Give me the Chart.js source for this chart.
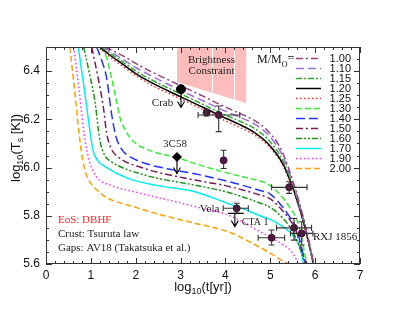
<!DOCTYPE html>
<html>
<head>
<meta charset="utf-8">
<script src="https://cdn.jsdelivr.net/npm/chart.js@4.4.0/dist/chart.umd.min.js"></script>
<style>
  html, body { margin: 0; padding: 0; background: #fff; }
  #wrap { width: 407px; height: 315px; }
</style>
</head>
<body>
<div id="wrap"><canvas id="chartCooling" width="407" height="315"></canvas></div>
<script>
// star masses (M/Msun), one cooling curve each
const masses = ["1.00", "1.10", "1.15", "1.20", "1.25", "1.30", "1.40", "1.50", "1.60", "1.70", "1.90", "2.00"];

// log10(t[yr]) and log10(Ts[K])
const age100 = [1.32, 1.70, 2.00, 2.32, 3.02, 3.50, 3.85, 4.30, 4.65, 4.92, 5.15, 5.29, 5.51, 5.73, 5.88, 5.97];
const temp100 = [6.50, 6.465, 6.432, 6.40, 6.338, 6.296, 6.264, 6.226, 6.195, 6.157, 6.105, 6.055, 5.94, 5.797, 5.679, 5.60];
const age110 = [1.27, 1.40, 1.70, 2.00, 2.32, 3.02, 3.50, 3.85, 4.30, 4.65, 4.92, 5.15, 5.29, 5.51, 5.73, 5.88, 5.97];
const temp110 = [6.50, 6.485, 6.45, 6.415, 6.383, 6.318, 6.277, 6.246, 6.21, 6.18, 6.142, 6.09, 6.042, 5.932, 5.793, 5.676, 5.60];
const age115 = [1.23, 1.40, 1.70, 2.00, 2.32, 3.02, 3.50, 3.85, 4.30, 4.65, 4.92, 5.15, 5.29, 5.51, 5.73, 5.88, 5.965];
const temp115 = [6.50, 6.478, 6.44, 6.401, 6.367, 6.304, 6.262, 6.23, 6.194, 6.162, 6.122, 6.07, 6.025, 5.922, 5.787, 5.672, 5.60];
const age120 = [1.20, 1.40, 1.70, 2.00, 2.32, 3.02, 3.50, 3.85, 4.30, 4.65, 4.92, 5.15, 5.29, 5.51, 5.73, 5.88, 5.96];
const temp120 = [6.50, 6.47, 6.43, 6.39, 6.355, 6.292, 6.25, 6.218, 6.18, 6.145, 6.105, 6.054, 6.012, 5.913, 5.781, 5.668, 5.60];
const age125 = [1.19, 1.40, 1.70, 2.00, 2.32, 3.02, 3.50, 3.85, 4.30, 4.65, 4.92, 5.15, 5.29, 5.51, 5.73, 5.88, 5.97];
const temp125 = [6.50, 6.462, 6.422, 6.381, 6.345, 6.283, 6.24, 6.207, 6.168, 6.135, 6.097, 6.047, 6.005, 5.907, 5.776, 5.664, 5.60];
const age130 = [1.22, 1.35, 1.46, 1.57, 1.65, 1.80, 1.94, 2.32, 2.91, 3.43, 4.00, 4.54, 4.77, 5.00, 5.28, 5.45, 5.59, 5.70, 5.77, 5.82];
const temp130 = [6.50, 6.456, 6.373, 6.276, 6.207, 6.145, 6.11, 6.07, 6.042, 6.01, 5.98, 5.955, 5.945, 5.925, 5.875, 5.83, 5.785, 5.71, 5.64, 5.60];
const age140 = [1.13, 1.25, 1.35, 1.46, 1.55, 1.69, 1.87, 2.20, 2.70, 3.32, 4.00, 4.77, 5.00, 5.28, 5.45, 5.59, 5.72, 5.80];
const temp140 = [6.50, 6.44, 6.373, 6.225, 6.135, 6.075, 6.045, 6.018, 5.995, 5.974, 5.945, 5.905, 5.89, 5.835, 5.79, 5.745, 5.65, 5.60];
const age150 = [1.02, 1.16, 1.28, 1.35, 1.45, 1.61, 2.20, 3.32, 4.00, 4.77, 5.00, 5.28, 5.45, 5.59, 5.72, 5.79];
const temp150 = [6.50, 6.373, 6.249, 6.145, 6.08, 6.044, 5.996, 5.948, 5.925, 5.886, 5.87, 5.82, 5.78, 5.73, 5.645, 5.60];
const age160 = [0.84, 0.98, 1.09, 1.20, 1.31, 1.46, 2.20, 3.32, 4.00, 4.77, 5.00, 5.28, 5.45, 5.59, 5.70, 5.77];
const temp160 = [6.50, 6.38, 6.276, 6.115, 6.05, 6.024, 5.969, 5.927, 5.90, 5.853, 5.835, 5.79, 5.75, 5.70, 5.645, 5.60];
const age170 = [0.72, 0.87, 0.98, 1.05, 1.15, 1.31, 1.83, 2.50, 3.32, 4.06, 4.54, 4.77, 5.00, 5.28, 5.45, 5.58, 5.69, 5.74];
const temp170 = [6.50, 6.304, 6.152, 6.07, 6.03, 6.005, 5.955, 5.925, 5.90, 5.851, 5.818, 5.80, 5.785, 5.755, 5.73, 5.70, 5.65, 5.60];
const age190 = [0.62, 0.75, 0.85, 0.96, 1.05, 1.15, 1.46, 2.00, 2.58, 3.50, 4.06, 4.77, 5.20, 5.43, 5.55, 5.62];
const temp190 = [6.50, 6.30, 6.14, 6.03, 5.985, 5.955, 5.925, 5.898, 5.872, 5.83, 5.803, 5.734, 5.69, 5.66, 5.63, 5.60];
const age200 = [0.53, 0.65, 0.75, 0.82, 0.90, 0.98, 1.09, 1.31, 2.00, 2.58, 3.30, 4.06, 4.54, 5.00, 5.30, 5.43];
const temp200 = [6.50, 6.30, 6.12, 6.03, 5.97, 5.94, 5.915, 5.88, 5.835, 5.803, 5.77, 5.734, 5.692, 5.645, 5.61, 5.60];

const curveAges = [age100, age110, age115, age120, age125, age130, age140, age150, age160, age170, age190, age200];
const curveTemps = [temp100, temp110, temp115, temp120, temp125, temp130, temp140, temp150, temp160, temp170, temp190, temp200];

// measured sources with error bars
const obsAge = [3.58, 3.85, 3.96, 4.25, 5.42, 5.03, 5.53, 5.70];
const obsTemp = [6.228, 6.218, 6.03, 5.831, 5.918, 5.709, 5.75, 5.727];
const obsAgeLo = [3.55, 3.39, 3.92, 3.95, 5.03, 4.73, 5.14, 5.45];
const obsAgeHi = [3.61, 4.32, 4.00, 4.51, 5.82, 5.32, 5.92, 5.95];
const obsTempLo = [6.214, 6.149, 5.996, 5.81, 5.893, 5.679, 5.699, 5.679];
const obsTempHi = [6.242, 6.255, 6.072, 5.852, 5.941, 5.741, 5.789, 5.775];

// upper limits (Crab, 3C58, CTA 1)
const limitAge = [3.01, 2.92, 4.21];
const limitTemp = [6.325, 6.044, 5.81];
const limitTempTo = [6.249, 5.975, 5.755];
const limitAgeLo = [null, null, 4.06];
const limitAgeHi = [null, null, 4.41];

// brightness constraint band (lower edge, filled up to the top)
const brightAge = [2.92, 4.47];
const brightTemp = [6.355, 6.267];

// styles
const curveColors = ["#98407e", "#9b6ae0", "#2fa82f", "#000000", "#ff3030", "#33ee33", "#2233ff", "#7d1a55", "#179417", "#00eeee", "#ff33ff", "#ffa000"];
const curveDashes = [[7, 3, 2, 3], [8, 4], [6, 2, 2, 2], [], [1.5, 2.5], [6, 3], [9, 4], [7, 3, 2, 3], [6, 2, 2, 2, 2, 2], [], [1.5, 2.5], [6, 3]];

const serif = "'Liberation Serif', 'Times New Roman', serif";
const sans = "'Liberation Sans', Arial, sans-serif";

function toPoints(xs, ys) {
  return xs.map((x, i) => ({ x: x, y: ys[i] }));
}

const datasets = [];
datasets.push({
  data: [{ x: limitAge[0], y: limitTemp[0] }],
  pointRadius: 4.5,
  pointStyle: "circle",
  backgroundColor: "#000",
  borderColor: "#000",
  order: 0,
});
datasets.push({
  data: [{ x: limitAge[1], y: limitTemp[1] }],
  pointRadius: 4.5,
  pointStyle: "rectRot",
  backgroundColor: "#000",
  borderColor: "#000",
  order: 0,
});
datasets.push({
  data: toPoints(obsAge, obsTemp),
  pointRadius: 3.5,
  backgroundColor: "#5e0b45",
  borderColor: "#3a0028",
  borderWidth: 0.8,
  order: 0,
});
masses.forEach((m, i) => {
  datasets.push({
    label: m,
    data: toPoints(curveAges[i], curveTemps[i]),
    showLine: true,
    borderColor: curveColors[i],
    borderDash: curveDashes[i],
    borderWidth: 1.5,
    pointRadius: 0,
    fill: false,
    cubicInterpolationMode: "monotone",
    order: 1,
  });
});
datasets.push({
  data: toPoints(brightAge, brightTemp),
  showLine: true,
  borderWidth: 0,
  borderColor: "rgba(0,0,0,0)",
  backgroundColor: "#ffbcbc",
  pointRadius: 0,
  fill: "end",
  order: 2,
});

function drawText(ctx, parts, x, y) {
  // parts: [text, font, dy]
  let cx = x;
  parts.forEach((p) => {
    ctx.font = p[1];
    ctx.fillText(p[0], cx, y + (p[2] || 0));
    cx += ctx.measureText(p[0]).width;
  });
  return cx;
}
function textWidth(ctx, parts) {
  let w = 0;
  parts.forEach((p) => {
    ctx.font = p[1];
    w += ctx.measureText(p[0]).width;
  });
  return w;
}

const decorPlugin = {
  id: "decor",
  afterDatasetsDraw(chart) {
    const ctx = chart.ctx;
    const xs = chart.scales.x;
    const ys = chart.scales.y;
    const X = (v) => xs.getPixelForValue(v);
    const Y = (v) => ys.getPixelForValue(v);
    ctx.save();

    // white stripes in the brightness band
    ctx.strokeStyle = "#fff";
    ctx.lineWidth = 1;
    [3.69, 4.19].forEach((a) => {
      const f = (a - brightAge[0]) / (brightAge[1] - brightAge[0]);
      const lo = brightTemp[0] + f * (brightTemp[1] - brightTemp[0]);
      ctx.beginPath();
      ctx.moveTo(Math.round(X(a)) + 0.5, Y(6.5));
      ctx.lineTo(Math.round(X(a)) + 0.5, Y(lo));
      ctx.stroke();
    });

    // error bars
    ctx.strokeStyle = "#333";
    ctx.lineWidth = 1.1;
    const cap = 3;
    obsAge.forEach((a, i) => {
      const px = X(a), py = Y(obsTemp[i]);
      if (obsAgeLo[i] != null) {
        const x1 = X(obsAgeLo[i]), x2 = X(obsAgeHi[i]);
        ctx.beginPath();
        ctx.moveTo(x1, py); ctx.lineTo(x2, py);
        ctx.moveTo(x1, py - cap); ctx.lineTo(x1, py + cap);
        ctx.moveTo(x2, py - cap); ctx.lineTo(x2, py + cap);
        ctx.stroke();
      }
      const y1 = Y(obsTempLo[i]), y2 = Y(obsTempHi[i]);
      ctx.beginPath();
      ctx.moveTo(px, y1); ctx.lineTo(px, y2);
      ctx.moveTo(px - cap, y1); ctx.lineTo(px + cap, y1);
      ctx.moveTo(px - cap, y2); ctx.lineTo(px + cap, y2);
      ctx.stroke();
    });

    // upper limit arrows
    ctx.strokeStyle = "#000";
    limitAge.forEach((a, i) => {
      const px = X(a), y1 = Y(limitTemp[i]), y2 = Y(limitTempTo[i]);
      ctx.beginPath();
      if (limitAgeLo[i] != null) {
        ctx.moveTo(X(limitAgeLo[i]), y1); ctx.lineTo(X(limitAgeHi[i]), y1);
      }
      ctx.moveTo(px, y1); ctx.lineTo(px, y2);
      ctx.moveTo(px - 3.5, y2 - 6); ctx.lineTo(px, y2); ctx.lineTo(px + 3.5, y2 - 6);
      ctx.stroke();
    });

    // annotations
    ctx.fillStyle = "#222";
    ctx.textBaseline = "alphabetic";
    ctx.textAlign = "center";
    ctx.font = "11px " + serif;
    ctx.fillText("Brightness", X(3.69), Y(6.432));
    ctx.fillText("Constraint", X(3.69), Y(6.387));
    ctx.textAlign = "left";
    ctx.fillText("Crab", X(2.36), Y(6.254));
    ctx.fillText("3C58", X(2.61), Y(6.084));
    ctx.fillText("Vela", X(3.43), Y(5.815));
    ctx.fillText("RXJ 1856", X(5.95), Y(5.699));
    ctx.font = "10px " + serif;
    ctx.fillText("CTA 1", X(4.365), Y(5.761));
    ctx.font = "11px " + serif;
    ctx.fillStyle = "#ff2020";
    ctx.fillText("EoS: DBHF", X(0.267), Y(5.77));
    ctx.fillStyle = "#222";
    ctx.fillText("Crust: Tsuruta law", X(0.267), Y(5.712));
    ctx.fillText("Gaps: AV18 (Takatsuka et al.)", X(0.267), Y(5.654));
    ctx.restore();
  },
  afterDraw(chart) {
    const ctx = chart.ctx;
    const area = chart.chartArea;
    const xs = chart.scales.x;
    const ys = chart.scales.y;
    ctx.save();

    // frame + inward ticks on all four sides
    ctx.strokeStyle = "#333";
    ctx.lineWidth = 1;
    ctx.strokeRect(area.left + 0.5, area.top + 0.5, area.right - area.left - 1, area.bottom - area.top - 1);
    ctx.beginPath();
    for (let k = 0; k <= 35; k++) {
      const v = k * 0.2;
      const px = Math.round(xs.getPixelForValue(v)) + 0.5;
      const len = k % 5 === 0 ? 6 : 3;
      ctx.moveTo(px, area.bottom); ctx.lineTo(px, area.bottom - len);
      ctx.moveTo(px, area.top); ctx.lineTo(px, area.top + len);
    }
    for (let k = 0; k <= 18; k++) {
      const v = 5.6 + k * 0.05;
      const py = Math.round(ys.getPixelForValue(v)) + 0.5;
      const len = k % 4 === 0 && k < 18 ? 6 : 3;
      ctx.moveTo(area.left, py); ctx.lineTo(area.left + len, py);
      ctx.moveTo(area.right, py); ctx.lineTo(area.right - len, py);
    }
    ctx.stroke();

    // legend
    const lx0 = area.right - 64, lx1 = area.right - 39, labelRight = area.right - 9;
    const ly0 = area.top + 11.5;
    ctx.fillStyle = "#111";
    ctx.textBaseline = "alphabetic";
    ctx.textAlign = "left";
    let cx = drawText(ctx, [["M/M", "12px " + serif, 0], ["O", "8px " + serif, 4]], area.right - 103, ly0 + 4);
    ctx.font = "12px " + serif;
    ctx.fillText("=", cx, ly0 + 3);
    masses.forEach((m, i) => {
      const y = ly0 + i * 10;
      ctx.beginPath();
      ctx.strokeStyle = curveColors[i];
      ctx.setLineDash(curveDashes[i]);
      ctx.lineWidth = 1.5;
      ctx.moveTo(lx0, y); ctx.lineTo(lx1, y);
      ctx.stroke();
      ctx.setLineDash([]);
      ctx.fillStyle = "#111";
      ctx.font = "11px " + sans;
      ctx.textAlign = "right";
      ctx.textBaseline = "middle";
      ctx.fillText(m, labelRight, y + 0.5);
    });

    // axis titles
    ctx.fillStyle = "#111";
    ctx.textAlign = "left";
    ctx.textBaseline = "alphabetic";
    const big = "13px " + sans, small = "9px " + sans;
    const xParts = [["log", big, 0], ["10", small, 3], ["(t[yr])", big, 0]];
    const xw = textWidth(ctx, xParts);
    drawText(ctx, xParts, (area.left + area.right) / 2 + 0 - xw / 2, 291);
    const yParts = [["log", big, 0], ["10", small, 3], ["(T", big, 0], ["s", small, 3], [" [K])", big, 0]];
    const yw = textWidth(ctx, yParts);
    ctx.translate(20, 148);
    ctx.rotate(-Math.PI / 2);
    drawText(ctx, yParts, -yw / 2, 0);
    ctx.restore();
  },
};

new Chart(document.getElementById("chartCooling").getContext("2d"), {
  type: "scatter",
  data: { datasets: datasets },
  options: {
    responsive: false,
    animation: false,
    layout: { padding: { left: 0, right: 47, top: 47, bottom: 0 } },
    plugins: {
      legend: { display: false },
      tooltip: { enabled: false },
    },
    scales: {
      x: {
        type: "linear",
        min: 0,
        max: 7,
        grid: { display: false, drawTicks: false },
        border: { display: false },
        ticks: {
          stepSize: 1,
          includeBounds: false,
          padding: 4,
          color: "#111",
          font: { family: sans, size: 12 },
          callback: (v) => v.toFixed(0),
        },
        afterFit: (s) => { s.height = 51; },
      },
      y: {
        type: "linear",
        min: 5.6,
        max: 6.5,
        grid: { display: false, drawTicks: false },
        border: { display: false },
        ticks: {
          stepSize: 0.2,
          includeBounds: false,
          padding: 6,
          color: "#111",
          font: { family: sans, size: 12 },
          callback: (v) => v.toFixed(1),
        },
        afterFit: (s) => { s.width = 46; },
      },
    },
  },
  plugins: [decorPlugin],
});
</script>
</body>
</html>
